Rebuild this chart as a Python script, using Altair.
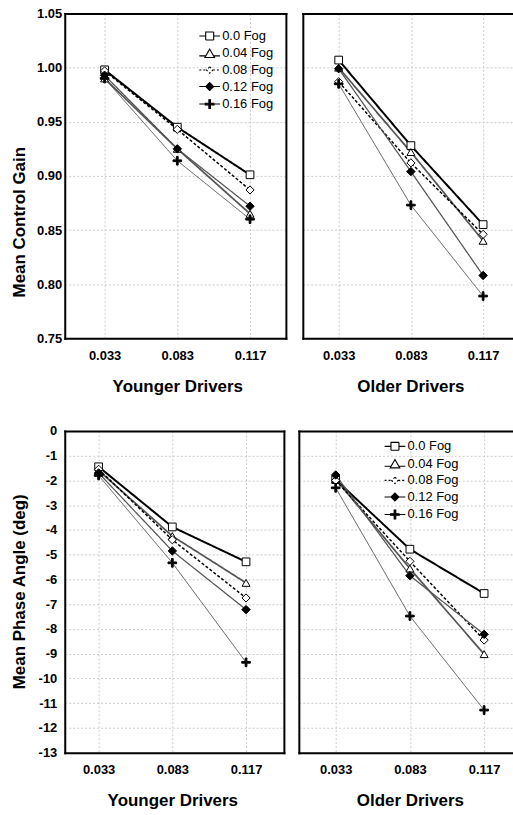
import altair as alt
import pandas as pd

speeds = ["0.033", "0.083", "0.117"]
fogs = ["0.0 Fog", "0.04 Fog", "0.08 Fog", "0.12 Fog", "0.16 Fog"]

gain_ticks = [0.75, 0.80, 0.85, 0.90, 0.95, 1.00, 1.05]
phase_ticks = [-13, -12, -11, -10, -9, -8, -7, -6, -5, -4, -3, -2, -1, 0]

# Mean control gain, younger drivers
young_gain_f00 = [0.998, 0.945, 0.901]
young_gain_f04 = [0.990, 0.925, 0.865]
young_gain_f08 = [0.997, 0.943, 0.887]
young_gain_f12 = [0.993, 0.925, 0.872]
young_gain_f16 = [0.990, 0.914, 0.860]

# Mean control gain, older drivers
old_gain_f00 = [1.007, 0.928, 0.855]
old_gain_f04 = [1.000, 0.922, 0.840]
old_gain_f08 = [0.987, 0.912, 0.846]
old_gain_f12 = [0.999, 0.904, 0.808]
old_gain_f16 = [0.985, 0.873, 0.789]

# Mean phase angle (deg), younger drivers
young_phase_f00 = [-1.45, -3.88, -5.29]
young_phase_f04 = [-1.60, -4.25, -6.14]
young_phase_f08 = [-1.55, -4.40, -6.75]
young_phase_f12 = [-1.70, -4.85, -7.22]
young_phase_f16 = [-1.80, -5.33, -9.35]

# Mean phase angle (deg), older drivers
old_phase_f00 = [-1.97, -4.78, -6.57]
old_phase_f04 = [-1.95, -5.56, -9.02]
old_phase_f08 = [-2.00, -5.27, -8.45]
old_phase_f12 = [-1.78, -5.85, -8.22]
old_phase_f16 = [-2.30, -7.48, -11.28]


def make_df(series):
    rows = []
    for fog, vals in zip(fogs, series):
        for i, (s, v) in enumerate(zip(speeds, vals)):
            rows.append({"idx": i, "speed": s, "fog": fog, "value": v})
    return pd.DataFrame(rows)


FONT = "Liberation Sans"
speed_label_expr = "[" + ",".join("'%s'" % s for s in speeds) + "][datum.value]"
line_colors = ["#000000", "#555555", "#000000", "#555555", "#555555"]
line_widths = [2.0, 1.0, 1.5, 1.0, 1.0]
line_dashes = [[1, 0], [1, 0], [3, 2], [1, 0], [1, 0]]
cross_path = "M-1,-0.2H-0.2V-1H0.2V-0.2H1V0.2H0.2V1H-0.2V0.2H-1Z"
marker_shapes = ["square", "triangle-up", "diamond", "diamond", cross_path]
marker_fills = ["white", "white", "white", "black", "black"]
marker_sizes = [60, 75, 40, 55, 85]
legend_paths = [
    "M-2.6,0H-1M1,0H2.6M-1,-1H1V1H-1Z",
    "M-2.6,0.6H-0.95M0.95,0.6H2.6M0,-1.1L1.2,1H-1.2Z",
    "M-2.6,0H-0.8M0.8,0H2.6M0,-0.8L0.8,0L0,0.8L-0.8,0Z",
    "M-2.6,0H-1M1,0H2.6M0,-1L1,0L0,1L-1,0Z",
    "M-2.6,0H-1.1M1.1,0H2.6M-1.1,-0.2H-0.2V-1.1H0.2V-0.2H1.1V0.2H0.2V1.1H-0.2V0.2H-1.1Z",
]
legend_dashes = [[1, 0], [1, 0], [2, 2], [1, 0], [1, 0]]
legend_strokes = ["black", "black", "black", "black", "black"]


def panel(df, xdomain, ydomain, yticks, ylabel_expr, show_y, ytitle, xtitle, width, height,
          title_x, title_y, label_pad, xtitle_x, legend_xy=None):
    base = alt.Chart(df)
    xscale = alt.Scale(domain=xdomain, nice=False, zero=False)
    yscale = alt.Scale(domain=ydomain, nice=False, zero=False)
    x_main = alt.X(
        "idx:Q", scale=xscale,
        axis=alt.Axis(values=[0, 1, 2], labelExpr=speed_label_expr, title=xtitle,
                      labelPadding=11, titlePadding=16, grid=True, titleX=xtitle_x),
    )
    if show_y:
        yaxis = alt.Axis(values=yticks, labelExpr=ylabel_expr, title=ytitle, grid=True,
                         labelPadding=label_pad, titleX=title_x, titleY=title_y,
                         titleBaseline="middle")
    else:
        yaxis = alt.Axis(values=yticks, labels=False, title=None, grid=True)
    y_main = alt.Y("value:Q", scale=yscale, axis=yaxis)

    x_top = alt.X("idx:Q", scale=xscale,
                  axis=alt.Axis(orient="top", labels=False, grid=False, title=None))
    if show_y:
        y_side = alt.Y("value:Q", scale=yscale,
                       axis=alt.Axis(orient="right", labels=False, grid=False, title=None))
    else:
        y_side = alt.Y("value:Q", scale=yscale, axis=None)

    lines = base.mark_line().encode(
        x=x_main, y=y_main,
        color=alt.Color("fog:O", scale=alt.Scale(domain=fogs, range=line_colors), legend=None),
        strokeWidth=alt.StrokeWidth("fog:O", scale=alt.Scale(domain=fogs, range=line_widths), legend=None),
        strokeDash=alt.StrokeDash("fog:O", scale=alt.Scale(domain=fogs, range=line_dashes), legend=None),
    )
    points = base.mark_point(stroke="black", strokeWidth=1, opacity=1).encode(
        x=x_top, y=y_side,
        shape=alt.Shape("fog:O", scale=alt.Scale(domain=fogs, range=marker_shapes), legend=None),
        fill=alt.Fill("fog:O", scale=alt.Scale(domain=fogs, range=marker_fills), legend=None),
        size=alt.Size("fog:O", scale=alt.Scale(domain=fogs, range=marker_sizes), legend=None),
    )
    layers = [lines, points]
    if legend_xy is not None:
        leg = alt.Legend(
            title=None, orient="none", legendX=legend_xy[0], legendY=legend_xy[1],
            symbolSize=64, symbolOpacity=1, symbolStrokeColor="black", symbolStrokeWidth=1.1,
            labelFont=FONT, labelFontSize=13, labelFontWeight="normal", labelColor="black",
            labelOffset=6, rowPadding=2.6, padding=0,
        )
        legend_layer = base.mark_point(size=0, strokeWidth=1.1).encode(
            x=alt.X("idx:Q", scale=xscale, axis=None),
            y=alt.Y("value:Q", scale=yscale, axis=None),
            shape=alt.Shape("fog:O", scale=alt.Scale(domain=fogs, range=legend_paths), legend=leg),
            fill=alt.Fill("fog:O", scale=alt.Scale(domain=fogs, range=marker_fills), legend=leg),
            stroke=alt.Stroke("fog:O", scale=alt.Scale(domain=fogs, range=legend_strokes), legend=leg),
            strokeDash=alt.StrokeDash("fog:O", scale=alt.Scale(domain=fogs, range=legend_dashes), legend=leg),
        )
        layers.append(legend_layer)
    ch = alt.layer(*layers).resolve_scale(
        shape="independent", fill="independent", strokeDash="independent", stroke="independent"
    ).resolve_axis(x="independent", y="independent").properties(width=width, height=height)
    return ch


gain_expr = "format(datum.value, '.2f')"
phase_expr = "replace(datum.label, '\u2212', '-')"

TL_W, TR_W, BL_W, BR_W = 222, 210, 220, 214

top_left = panel(make_df([young_gain_f00, young_gain_f04, young_gain_f08, young_gain_f12, young_gain_f16]),
                 [-40 / 73.0, (TL_W - 40) / 73.0], [0.75, 1.05], gain_ticks, gain_expr, True,
                 "Mean Control Gain", "Younger Drivers", TL_W, 326, -45, 209, 3, 113,
                 legend_xy=(139, 16))
top_right = panel(make_df([old_gain_f00, old_gain_f04, old_gain_f08, old_gain_f12, old_gain_f16]),
                  [-36 / 72.5, (TR_W - 36) / 72.5], [0.75, 1.05], gain_ticks, gain_expr, False, None,
                  "Older Drivers", TR_W, 326, 0, 0, 6, 108)
bot_left = panel(make_df([young_phase_f00, young_phase_f04, young_phase_f08, young_phase_f12, young_phase_f16]),
                 [-34 / 74.0, (BL_W - 34) / 74.0], [-13, 0], phase_ticks, phase_expr, True,
                 "Mean Phase Angle (deg)", "Younger Drivers", BL_W, 323, -45, 161, 8, 108)
bot_right = panel(make_df([old_phase_f00, old_phase_f04, old_phase_f08, old_phase_f12, old_phase_f16]),
                  [-37 / 74.5, (BR_W - 37) / 74.5], [-13, 0], phase_ticks, phase_expr, False, None,
                  "Older Drivers", BR_W, 323, 0, 0, 5, 111.5, legend_xy=(90, 9))

res = dict(shape="independent", fill="independent", strokeDash="independent", stroke="independent")
top = alt.hconcat(top_left, top_right, spacing=15).resolve_scale(**res)
bottom = alt.hconcat(bot_left, bot_right, spacing=13).resolve_scale(**res)

chart = alt.vconcat(top, bottom, spacing=29).resolve_scale(**res).properties(
    padding={"left": 10, "top": 5, "right": 0, "bottom": 0},
    background="white",
).configure_view(
    stroke="transparent"
).configure_axis(
    labelFont=FONT, labelFontSize=13, labelFontWeight="bold", labelColor="black",
    titleFont=FONT, titleFontSize=17, titleFontWeight="bold", titleColor="black",
    gridColor="#cccccc", gridDash=[2, 2], gridWidth=1,
    ticks=False, tickSize=0, domain=True, domainColor="black", domainWidth=2, domainCap="square",
)

chart.save("out.html", embed_options={"renderer": "svg", "actions": False})
